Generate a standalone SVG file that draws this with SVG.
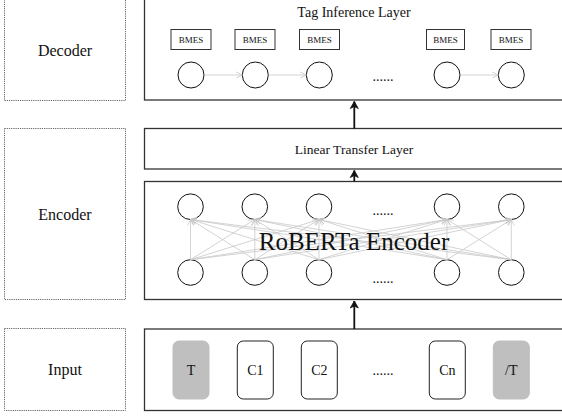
<svg xmlns="http://www.w3.org/2000/svg" width="562" height="419" viewBox="0 0 562 419">
<style>
.dot{fill:none;stroke:#666;stroke-width:1;stroke-dasharray:1.2 1}
.main{fill:#fff;stroke:#333;stroke-width:1.3}
.t{font-family:"Liberation Serif","Times New Roman",serif;fill:#111;text-anchor:middle}
.c{fill:#fff;stroke:#111;stroke-width:1}
.bm{fill:#fff;stroke:#333;stroke-width:1}
.g{stroke:#c8c8c8;stroke-width:0.8;fill:none}
.bk{stroke:#111;stroke-width:1.8;fill:none}
.tok{fill:#fff;stroke:#222;stroke-width:1}
.tokg{fill:#bfbfbf;stroke:#bfbfbf;stroke-width:1}
</style>
<defs>
<marker id="ga" markerWidth="8" markerHeight="8" refX="7" refY="4" orient="auto" markerUnits="userSpaceOnUse">
<path d="M1,1 L7,4 L1,7" fill="none" stroke="#c8c8c8" stroke-width="0.8"/>
</marker>
<marker id="ba" markerWidth="10" markerHeight="10" refX="8" refY="5" orient="auto" markerUnits="userSpaceOnUse">
<path d="M1,1 L8,5 L1,9 L3,5 Z" fill="#111" stroke="#111" stroke-width="0.8"/>
</marker>
</defs>

<g id="decoder-label"><rect class="dot" x="4.5" y="-2" width="121" height="102.5"/><text class="t" x="65" y="56" font-size="16">Decoder</text></g>
<g id="encoder-label"><rect class="dot" x="4.5" y="128.5" width="121" height="171"/><text class="t" x="65" y="220" font-size="16">Encoder</text></g>
<g id="input-label"><rect class="dot" x="4.5" y="328.5" width="121" height="82"/><text class="t" x="65" y="375" font-size="16">Input</text></g>

<g id="tag-inference-layer">
<rect class="main" x="144.5" y="-5" width="430" height="105"/>
<text class="t" x="354" y="17" font-size="14">Tag Inference Layer</text>
<rect class="bm" x="171" y="29.5" width="40" height="20"/><text class="t" x="191" y="42.5" font-size="9">BMES</text>
<rect class="bm" x="235" y="29.5" width="40" height="20"/><text class="t" x="255" y="42.5" font-size="9">BMES</text>
<rect class="bm" x="299.5" y="29.5" width="40" height="20"/><text class="t" x="319.5" y="42.5" font-size="9">BMES</text>
<rect class="bm" x="426.5" y="29.5" width="38" height="20"/><text class="t" x="445.5" y="42.5" font-size="9">BMES</text>
<rect class="bm" x="491" y="29.5" width="40" height="20"/><text class="t" x="511" y="42.5" font-size="9">BMES</text>
<circle class="c" cx="191" cy="75" r="13"/>
<circle class="c" cx="255.3" cy="75" r="13"/>
<circle class="c" cx="319.3" cy="75" r="13"/>
<circle class="c" cx="447" cy="75" r="13"/>
<circle class="c" cx="511.3" cy="75" r="13"/>
<text class="t" x="383" y="81" font-size="14">......</text>
</g>

<g id="linear-transfer-layer">
<rect class="main" x="144.5" y="128.5" width="430" height="40.5"/>
<text class="t" x="354" y="153.5" font-size="13.5">Linear Transfer Layer</text>
</g>

<g id="roberta-encoder">
<rect class="main" x="144.5" y="181.5" width="430" height="118"/>
<circle class="c" cx="190.5" cy="206.7" r="12.8"/>
<circle class="c" cx="254.8" cy="206.7" r="12.8"/>
<circle class="c" cx="319" cy="206.7" r="12.8"/>
<circle class="c" cx="447" cy="206.7" r="12.8"/>
<circle class="c" cx="511.3" cy="206.7" r="12.8"/>
<circle class="c" cx="190.5" cy="272.5" r="12.8"/>
<circle class="c" cx="254.8" cy="272.5" r="12.8"/>
<circle class="c" cx="319" cy="272.5" r="12.8"/>
<circle class="c" cx="447" cy="272.5" r="12.8"/>
<circle class="c" cx="511.3" cy="272.5" r="12.8"/>
<text class="t" x="383" y="215" font-size="14">......</text>
<text class="t" x="383" y="283" font-size="14">......</text>
</g>

<g id="input-layer">
<rect class="main" x="144.5" y="329" width="430" height="81.5"/>
<rect class="tokg" x="173" y="341" width="36" height="58" rx="6"/><text class="t" x="191" y="375" font-size="14">T</text>
<rect class="tok" x="237.3" y="341" width="36" height="58" rx="6"/><text class="t" x="255.3" y="375" font-size="14">C1</text>
<rect class="tok" x="301.3" y="341" width="36" height="58" rx="6"/><text class="t" x="319.3" y="375" font-size="14">C2</text>
<text class="t" x="383" y="375" font-size="14">......</text>
<rect class="tok" x="429.3" y="341" width="36" height="58" rx="6"/><text class="t" x="447.3" y="375" font-size="14">Cn</text>
<rect class="tokg" x="493.3" y="341" width="36" height="58" rx="6"/><text class="t" x="511.3" y="375" font-size="14">/T</text>
</g>

<g id="connectors">
<line class="g" x1="204" y1="75" x2="242.3" y2="75" marker-end="url(#ga)"/>
<line class="g" x1="268.3" y1="75" x2="306.3" y2="75" marker-end="url(#ga)"/>
<line class="g" x1="460" y1="75" x2="498.3" y2="75" marker-end="url(#ga)"/>
<g class="g">
<line x1="190.5" y1="259.7" x2="190.5" y2="219.5" marker-end="url(#ga)"/>
<line x1="190.5" y1="259.7" x2="254.8" y2="219.5" marker-end="url(#ga)"/>
<line x1="190.5" y1="259.7" x2="319" y2="219.5" marker-end="url(#ga)"/>
<line x1="190.5" y1="259.7" x2="447" y2="219.5" marker-end="url(#ga)"/>
<line x1="190.5" y1="259.7" x2="511.3" y2="219.5" marker-end="url(#ga)"/>
<line x1="254.8" y1="259.7" x2="190.5" y2="219.5" marker-end="url(#ga)"/>
<line x1="254.8" y1="259.7" x2="254.8" y2="219.5" marker-end="url(#ga)"/>
<line x1="254.8" y1="259.7" x2="319" y2="219.5" marker-end="url(#ga)"/>
<line x1="254.8" y1="259.7" x2="447" y2="219.5" marker-end="url(#ga)"/>
<line x1="254.8" y1="259.7" x2="511.3" y2="219.5" marker-end="url(#ga)"/>
<line x1="319" y1="259.7" x2="190.5" y2="219.5" marker-end="url(#ga)"/>
<line x1="319" y1="259.7" x2="254.8" y2="219.5" marker-end="url(#ga)"/>
<line x1="319" y1="259.7" x2="319" y2="219.5" marker-end="url(#ga)"/>
<line x1="319" y1="259.7" x2="447" y2="219.5" marker-end="url(#ga)"/>
<line x1="319" y1="259.7" x2="511.3" y2="219.5" marker-end="url(#ga)"/>
<line x1="447" y1="259.7" x2="190.5" y2="219.5" marker-end="url(#ga)"/>
<line x1="447" y1="259.7" x2="254.8" y2="219.5" marker-end="url(#ga)"/>
<line x1="447" y1="259.7" x2="319" y2="219.5" marker-end="url(#ga)"/>
<line x1="447" y1="259.7" x2="447" y2="219.5" marker-end="url(#ga)"/>
<line x1="447" y1="259.7" x2="511.3" y2="219.5" marker-end="url(#ga)"/>
<line x1="511.3" y1="259.7" x2="190.5" y2="219.5" marker-end="url(#ga)"/>
<line x1="511.3" y1="259.7" x2="254.8" y2="219.5" marker-end="url(#ga)"/>
<line x1="511.3" y1="259.7" x2="319" y2="219.5" marker-end="url(#ga)"/>
<line x1="511.3" y1="259.7" x2="447" y2="219.5" marker-end="url(#ga)"/>
<line x1="511.3" y1="259.7" x2="511.3" y2="219.5" marker-end="url(#ga)"/>
</g>
<line class="bk" x1="354.3" y1="329" x2="354.3" y2="301" marker-end="url(#ba)"/>
<line class="bk" x1="354.3" y1="181.5" x2="354.3" y2="170.5" marker-end="url(#ba)"/>
<line class="bk" x1="354.3" y1="128.5" x2="354.3" y2="101.5" marker-end="url(#ba)"/>
</g>
<text class="t" x="354" y="250" font-size="25" id="roberta-title">RoBERTa Encoder</text>
</svg>
